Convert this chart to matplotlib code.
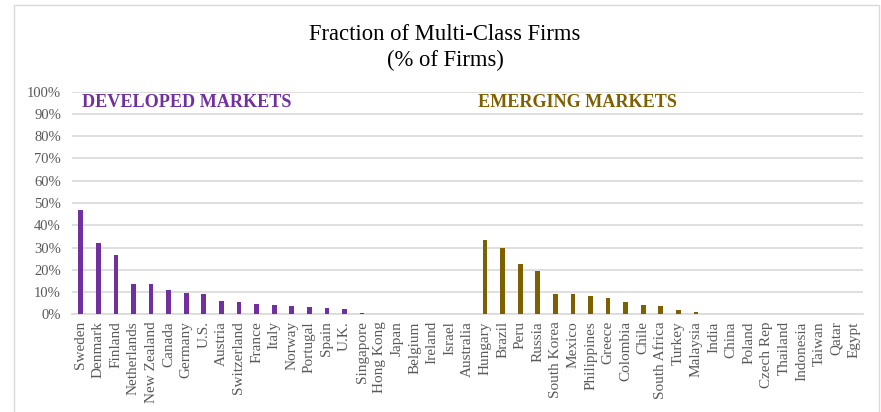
import matplotlib
matplotlib.use("Agg")
import matplotlib.pyplot as plt
from matplotlib.patches import Rectangle

developed = ["Sweden", "Denmark", "Finland", "Netherlands", "New Zealand", "Canada",
             "Germany", "U.S.", "Austria", "Switzerland", "France", "Italy", "Norway",
             "Portugal", "Spain", "U.K.", "Singapore", "Hong Kong", "Japan", "Belgium",
             "Ireland", "Israel", "Australia"]
developed_vals = [46.9, 31.9, 26.6, 13.6, 13.6, 10.9, 9.7, 9.0, 6.1, 5.4, 4.6, 4.3, 3.9,
                  3.3, 2.8, 2.2, 0.7, 0, 0, 0, 0, 0, 0]
emerging = ["Hungary", "Brazil", "Peru", "Russia", "South Korea", "Mexico", "Philippines",
            "Greece", "Colombia", "Chile", "South Africa", "Turkey", "Malaysia", "India",
            "China", "Poland", "Czech Rep", "Thailand", "Indonesia", "Taiwan", "Qatar", "Egypt"]
emerging_vals = [33.2, 29.9, 22.6, 19.6, 9.3, 9.0, 8.2, 7.5, 5.4, 4.2, 3.9, 1.8, 1.0,
                 0, 0, 0, 0, 0, 0, 0, 0, 0]
yticks = list(range(0, 101, 10))

plt.rcParams['font.family'] = ['Liberation Serif', 'DejaVu Serif']

W, H = 881, 412
fig = plt.figure(figsize=(W / 100, H / 100), dpi=100)
ax = fig.add_axes([72 / W, 1 - 314.3 / H, (863 - 72) / W, (314.3 - 91.7) / H])

purple = "#7030A0"
brown = "#7F6000"
gray = "#595959"

cats = developed + emerging
xd = list(range(len(developed)))
xe = list(range(len(developed), len(cats)))
ax.bar(xd, developed_vals, width=0.27, color=purple, zorder=3)
ax.bar(xe, emerging_vals, width=0.27, color=brown, zorder=3)

ax.set_xlim(-0.5, len(cats) - 0.5)
ax.set_ylim(0, 100)
ax.set_yticks(yticks)
ax.set_yticklabels([f"{t}%" for t in yticks], color=gray, fontsize=10.5)
ax.set_xticks(range(len(cats)))
ax.set_xticklabels(cats, rotation=90, color=gray, fontsize=11)
ax.tick_params(axis='y', length=0, pad=8)
ax.tick_params(axis='x', length=0, pad=5)
ax.grid(axis='y', color="#D9D9D9", linewidth=1.2, zorder=0)
for s in ["top", "right", "left"]:
    ax.spines[s].set_visible(False)
ax.spines["bottom"].set_color("#D9D9D9")
ax.spines["bottom"].set_linewidth(1.2)

ax.text((82 - 72) / (863 - 72), 0.95, "DEVELOPED MARKETS", transform=ax.transAxes,
        color=purple, fontsize=13.1, fontweight='bold', va='center', ha='left')
ax.text((478 - 72) / (863 - 72), 0.95, "EMERGING MARKETS", transform=ax.transAxes,
        color=brown, fontsize=13.1, fontweight='bold', va='center', ha='left')

fig.text(445 / W, 1 - 34 / H, "Fraction of Multi-Class Firms", ha='center', va='center',
         fontsize=16.3, color="#000000")
fig.text(445 / W, 1 - 60.5 / H, "(% of Firms)", ha='center', va='center',
         fontsize=16.3, color="#000000")

fig.patches.append(Rectangle((14 / W, -0.05), (879 - 14) / W, 1 - 5 / H + 0.05,
                             transform=fig.transFigure, fill=False,
                             edgecolor="#D9D9D9", linewidth=1.0))

fig.savefig("out.png", dpi=100)
